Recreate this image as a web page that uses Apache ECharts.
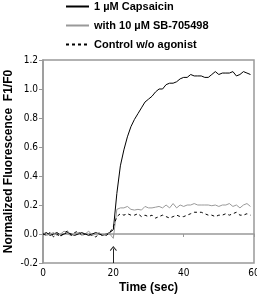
<!DOCTYPE html>
<html>
<head>
<meta charset="utf-8">
<script src="https://cdn.jsdelivr.net/npm/echarts@6/dist/echarts.min.js"></script>
<style>
  html, body { margin: 0; padding: 0; background: #fff; }
  #chart { width: 257px; height: 301px; }
</style>
</head>
<body>
<div id="chart"></div>
<script>
// time in seconds, one sample per second
const time = [];
for (let t = 0; t <= 59; t++) time.push(t);

const capsaicin = [
  0.00, 0.01, -0.01, 0.00, 0.01, -0.01, 0.00, 0.01, 0.00, -0.01,
  0.00, 0.01, 0.00, -0.01, 0.00, 0.01, 0.00, -0.01, 0.00, 0.01,
  0.03, 0.28, 0.47, 0.58, 0.67, 0.74, 0.79, 0.83, 0.87, 0.91,
  0.93, 0.95, 0.98, 1.00, 1.00, 1.03, 1.04, 1.04, 1.05, 1.07,
  1.08, 1.08, 1.10, 1.09, 1.09, 1.09, 1.08, 1.08, 1.10, 1.12,
  1.10, 1.11, 1.11, 1.11, 1.12, 1.09, 1.10, 1.12, 1.11, 1.10
];

const withSB = [
  0.01, -0.01, 0.00, 0.01, -0.01, 0.00, 0.02, 0.00, -0.01, 0.00,
  0.01, -0.01, 0.00, 0.02, -0.01, 0.00, 0.01, -0.01, 0.00, 0.00,
  -0.03, 0.17, 0.18, 0.18, 0.19, 0.17, 0.165, 0.17, 0.165, 0.19,
  0.18, 0.18, 0.185, 0.19, 0.18, 0.20, 0.18, 0.21, 0.18, 0.20,
  0.19, 0.20, 0.20, 0.21, 0.20, 0.20, 0.20, 0.20, 0.195, 0.20,
  0.19, 0.20, 0.20, 0.21, 0.19, 0.20, 0.18, 0.20, 0.21, 0.19
];

const control = [
  0.00, -0.01, 0.01, -0.02, 0.00, -0.02, 0.01, 0.02, -0.01, 0.01,
  0.02, -0.01, 0.00, 0.00, -0.01, -0.02, 0.00, -0.01, -0.01, 0.01,
  0.05, 0.12, 0.14, 0.13, 0.14, 0.13, 0.13, 0.14, 0.12, 0.13,
  0.12, 0.13, 0.11, 0.12, 0.13, 0.12, 0.11, 0.12, 0.13, 0.12,
  0.12, 0.13, 0.14, 0.15, 0.15, 0.15, 0.14, 0.13, 0.13, 0.12,
  0.13, 0.13, 0.14, 0.13, 0.14, 0.15, 0.13, 0.13, 0.14, 0.13
];

const seriesNames = ['1 µM Capsaicin', 'with 10 µM SB-705498', 'Control w/o agonist'];
const agonistTime = 20;

const pairs = arr => time.map((t, i) => [t, arr[i]]);

const chart = echarts.init(document.getElementById('chart'));
const narrow = '"Liberation Sans Narrow", "DejaVu Sans Condensed", "Liberation Sans", sans-serif';
const tickFont = { fontFamily: narrow, fontSize: 10, color: '#000' };
const titleFont = { fontFamily: 'Liberation Sans', fontSize: 12, fontWeight: 'bold', color: '#000' };
const frame = '#999';

chart.setOption({
  animation: false,
  grid: {
    left: 43, right: 3, top: 60, bottom: 38,
    outerBoundsMode: 'none', containLabel: false,
    show: true, borderColor: frame, borderWidth: 1.5
  },
  legend: {
    orient: 'vertical',
    left: 60,
    top: -4,
    itemWidth: 23,
    itemHeight: 12,
    itemGap: 8,
    itemStyle: { opacity: 0 },
    textStyle: { fontFamily: 'Liberation Sans', fontSize: 11, fontWeight: 'bold', color: '#000' },
    data: seriesNames
  },
  xAxis: {
    type: 'value',
    min: 0, max: 60, interval: 20,
    name: 'Time (sec)',
    nameLocation: 'middle',
    nameGap: 19,
    nameMoveOverlap: false,
    nameTextStyle: titleFont,
    axisLine: { lineStyle: { color: frame, width: 1.5 } },
    axisTick: { show: true, length: 3, lineStyle: { color: frame } },
    axisLabel: Object.assign({ margin: 5 }, tickFont),
    splitLine: { show: false }
  },
  yAxis: {
    type: 'value',
    min: -0.2, max: 1.2, interval: 0.2,
    name: 'Normalized Fluorescence  F1/F0',
    nameLocation: 'middle',
    nameGap: 28,
    nameMoveOverlap: false,
    nameTextStyle: titleFont,
    axisLine: { show: true, lineStyle: { color: frame, width: 1.5 } },
    axisTick: { show: true, length: 4, lineStyle: { color: frame } },
    axisLabel: Object.assign({ margin: 5, formatter: v => v.toFixed(1) }, tickFont),
    splitLine: { show: false }
  },
  series: [
    {
      name: seriesNames[0], type: 'line', showSymbol: false, symbol: 'none',
      data: pairs(capsaicin),
      lineStyle: { color: '#000', width: 1 }, itemStyle: { color: '#000' }
    },
    {
      name: seriesNames[1], type: 'line', showSymbol: false, symbol: 'none',
      data: pairs(withSB),
      lineStyle: { color: '#999', width: 1 }, itemStyle: { color: '#999' }
    },
    {
      name: seriesNames[2], type: 'line', showSymbol: false, symbol: 'none',
      data: pairs(control),
      lineStyle: { color: '#000', width: 1, type: [3, 3] }, itemStyle: { color: '#000' },
      markLine: {
        silent: true,
        symbol: ['none', 'path://M0,6 L5,0 L10,6 L9,7 L5,2 L1,7 Z'],
        symbolSize: [7, 5],
        label: { show: false },
        lineStyle: { color: '#222', width: 1, type: 'solid' },
        data: [[{ coord: [agonistTime, -0.2] }, { coord: [agonistTime, -0.1] }]]
      }
    }
  ]
});
</script>
</body>
</html>
